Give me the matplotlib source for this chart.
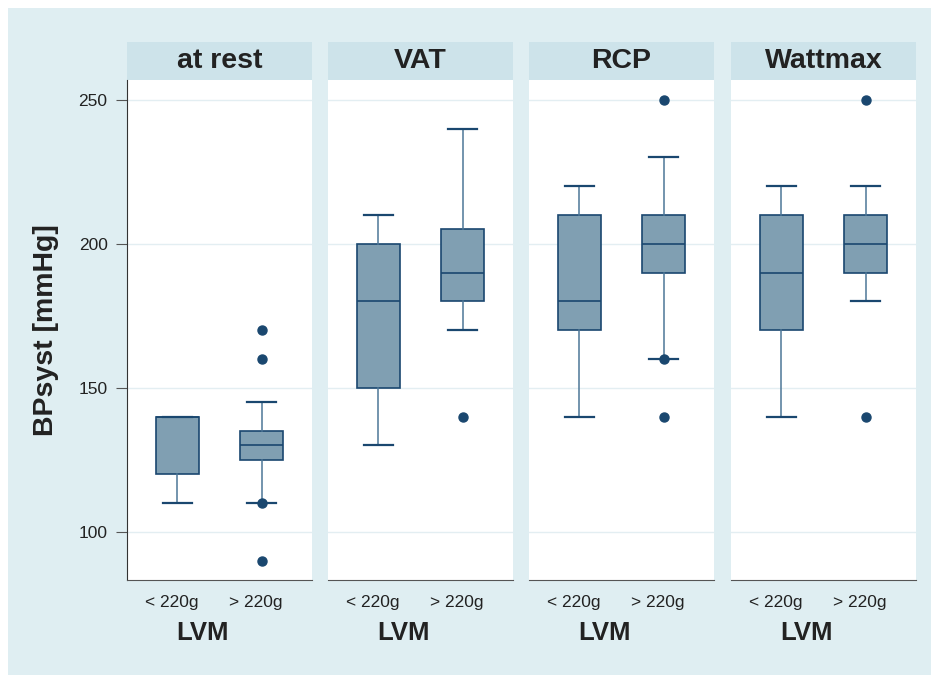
import matplotlib
matplotlib.use("Agg")
import matplotlib.pyplot as plt
from matplotlib.patches import Rectangle
from matplotlib.transforms import ScaledTranslation

plt.rcParams['font.family'] = ['Liberation Sans', 'DejaVu Sans']

phases = ["at rest", "VAT", "RCP", "Wattmax"]
groups = ["< 220g", "> 220g"]

# per phase: [< 220g, > 220g]  (whislo, q1, med, q3, whishi)
whislo = [[110, 110], [130, 170], [140, 160], [140, 180]]
q1 = [[120, 125], [150, 180], [170, 190], [170, 190]]
med = [[140, 130], [180, 190], [180, 200], [190, 200]]
q3 = [[140, 135], [200, 205], [210, 210], [210, 210]]
whishi = [[140, 145], [210, 240], [220, 230], [220, 220]]
fliers = [[[], [170, 160, 110, 90]],
          [[], [140]],
          [[], [250, 160, 140]],
          [[], [250, 140]]]

bg = "#dfeef2"
head = "#cde3ea"
navy = "#1a476f"
fill = "#809fb2"
grid = "#e3eef2"

W, H = 931, 675
fig = plt.figure(figsize=(W / 100, H / 100), dpi=100)
fig.patches.append(Rectangle((8 / W, 0), 1, 1 - 8 / H, transform=fig.transFigure,
                             facecolor=bg, edgecolor="none", zorder=-10))

lefts = [127, 328, 529, 731]
pw = 185
top, bot = 80, 580
for i, name in enumerate(phases):
    ax = fig.add_axes([lefts[i] / W, 1 - bot / H, pw / W, (bot - top) / H])
    fig.patches.append(Rectangle((lefts[i] / W, 1 - top / H), pw / W, 38 / H,
                                 transform=fig.transFigure, facecolor=head,
                                 edgecolor="none", zorder=-5))
    fig.text((lefts[i] + pw / 2) / W, 1 - 61 / H, name, ha="center", va="center",
             fontsize=20.5, fontweight="bold", color="#222222")
    stats = []
    for j in range(2):
        stats.append(dict(whislo=whislo[i][j], q1=q1[i][j], med=med[i][j],
                          q3=q3[i][j], whishi=whishi[i][j], fliers=fliers[i][j]))
    ax.bxp(stats, positions=[1, 2], widths=0.51, capwidths=0.35, patch_artist=True,
           boxprops=dict(facecolor=fill, edgecolor=navy, linewidth=1.2),
           medianprops=dict(color=navy, linewidth=1.2),
           whiskerprops=dict(color="#4d7797", linewidth=1.1),
           capprops=dict(color=navy, linewidth=1.6),
           flierprops=dict(marker="o", markerfacecolor=navy, markeredgecolor=navy,
                           markersize=6.5))
    ax.set_xlim(0.4, 2.6)
    ax.set_ylim(83.3, 256.9)
    ax.set_yticks([100, 150, 200, 250])
    ax.yaxis.grid(True, color=grid, linewidth=1)
    ax.set_axisbelow(True)
    ax.set_xticks([1, 2])
    ax.set_xticklabels(groups, fontsize=12.5, color="#222222")
    ax.tick_params(axis="x", length=0, pad=11)
    shift = ScaledTranslation(-6 / 100, 0, fig.dpi_scale_trans)
    for lab in ax.get_xticklabels():
        lab.set_transform(lab.get_transform() + shift)
    ax.set_xlabel("LVM", fontsize=18.5, fontweight="bold", color="#222222")
    ax.xaxis.set_label_coords(0.41, -0.082)
    for s in ["top", "right"]:
        ax.spines[s].set_visible(False)
    ax.spines["bottom"].set_color("#555555")
    if i == 0:
        ax.spines["left"].set_color("#333333")
        ax.tick_params(axis="y", length=8, color="#555555", labelsize=12.5,
                       labelcolor="#222222", pad=6)
        ax.set_ylabel("BPsyst [mmHg]", fontsize=20.5, fontweight="bold",
                      color="#222222", labelpad=14)
    else:
        ax.spines["left"].set_visible(False)
        ax.tick_params(axis="y", length=0, labelleft=False)

fig.savefig("out.png", dpi=100)
